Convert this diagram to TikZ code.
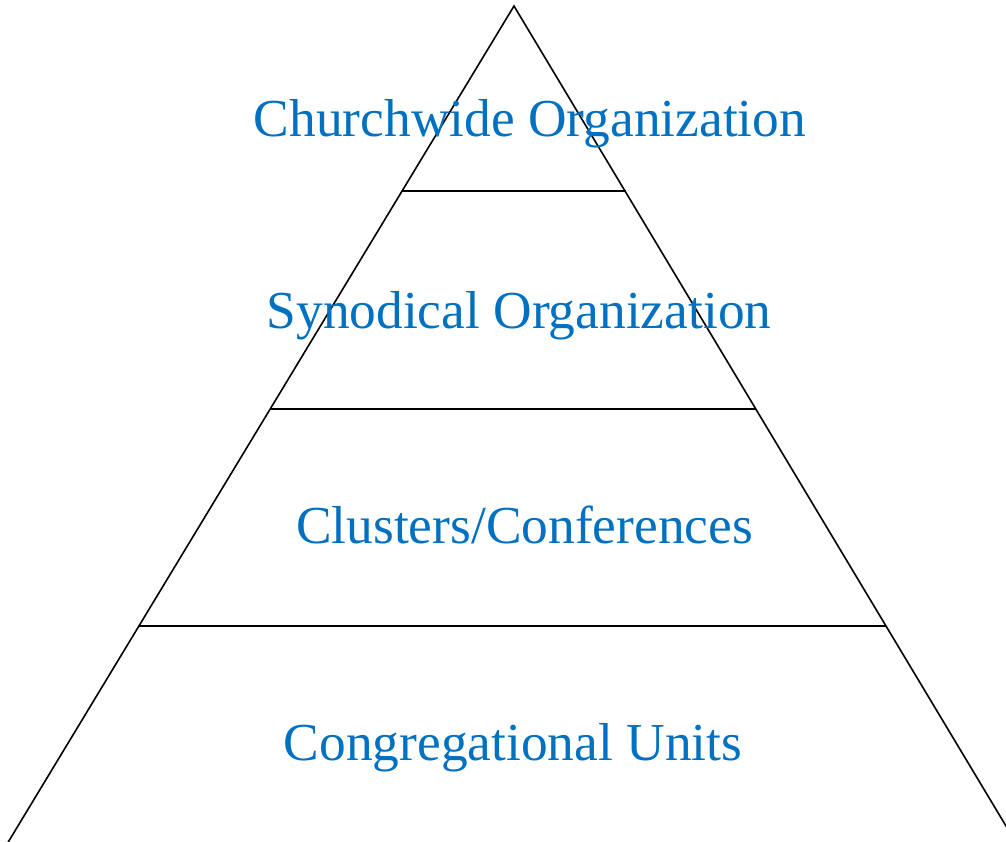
\documentclass[tikz,border=0pt]{standalone}
\usepackage{fontspec}
\setmainfont{Liberation Serif}
\definecolor{lvlblue}{HTML}{0070C0}
\begin{document}
\begin{tikzpicture}[x=1pt,y=-1pt,
  edge/.style={line width=1.6pt,black},
  sep/.style={line width=2.2pt,black},
  lvl/.style={anchor=base,text=lvlblue,font=\fontsize{53.4}{60}\selectfont,inner sep=0pt}]
\useasboundingbox (0,0) rectangle (1006,841);
\clip (0,0) rectangle (1006,841);
\coordinate (apex) at (514,6);
\coordinate (bl) at (3.4,850);
\coordinate (br) at (1020.4,850);
\draw[edge,line join=miter] (bl) -- (apex) -- (br);
\draw[sep] (402,191) -- (625.6,191);
\draw[sep] (270.2,409) -- (755.8,409);
\draw[sep] (139,626) -- (886,626);
\node[lvl] (churchwide) at (530,136) {Churchwide Organization};
\node[lvl] (synodical) at (519,328) {Synodical Organization};
\node[lvl] (clusters) at (524.5,543) {Clusters/Conferences};
\node[lvl] (congregational) at (513,760) {Congregational Units};
\end{tikzpicture}
\end{document}
